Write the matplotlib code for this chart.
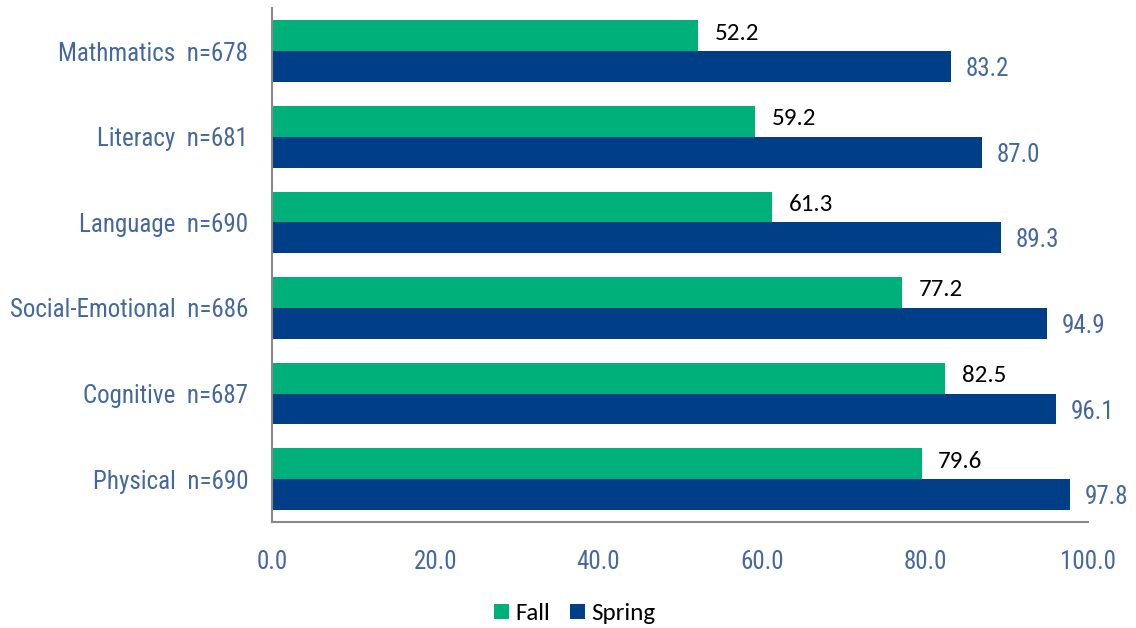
import matplotlib
matplotlib.use("Agg")
import matplotlib.pyplot as plt
import numpy as np
from matplotlib import font_manager

categories = ["Mathmatics  n=678", "Literacy  n=681", "Language  n=690",
              "Social-Emotional  n=686", "Cognitive  n=687", "Physical  n=690"]
fall = [52.2, 59.2, 61.3, 77.2, 82.5, 79.6]
spring = [83.2, 87.0, 89.3, 94.9, 96.1, 97.8]
xticks = [0, 20, 40, 60, 80, 100]

names = {f.name for f in font_manager.fontManager.ttflist}
def pick(cands):
    for c in cands:
        if c in names:
            return c
    return "DejaVu Sans"
narrow = pick(["Liberation Sans Narrow", "Arial Narrow", "Roboto Condensed", "PT Sans Narrow",
               "Archivo Narrow", "Open Sans Condensed", "Roboto"])
body = pick(["Carlito", "Calibri", "Open Sans"])
nw = "normal"

green = "#00B07A"
navy = "#003F87"
axcol = "#44689E"

fig = plt.figure(figsize=(11.36, 6.28), dpi=100)
ax = fig.add_axes([0.2394, 0.1688, 0.7186, 0.818])

n = len(categories)
y = np.arange(n)
h = 0.36
ax.barh(y - h / 2, fall, height=h, color=green, label="Fall")
ax.barh(y + h / 2, spring, height=h, color=navy, label="Spring")

for yi, v in zip(y, fall):
    ax.text(v + 2.0, yi - h / 2 - 0.03, f"{v:.1f}", va="center", ha="left",
            fontsize=18, color="black", family=body)
for yi, v in zip(y, spring):
    ax.text(v + 1.8, yi + h / 2 + 0.03, f"{v:.1f}", va="center", ha="left",
            fontsize=18, color=axcol, family=narrow, fontweight=nw)

ax.set_ylim(n - 0.5, -0.5)
ax.set_xlim(0, 100)
ax.set_yticks(y)
ax.set_yticklabels(categories, fontsize=18, color=axcol, family=narrow, fontweight=nw)
ax.set_xticks(xticks)
ax.set_xticklabels([f"{t:.1f}" for t in xticks], fontsize=18, color=axcol, family=narrow,
                   fontweight=nw)
ax.tick_params(axis="both", length=0)
ax.tick_params(axis="y", pad=17)
ax.tick_params(axis="x", pad=20)

for s in ["top", "right"]:
    ax.spines[s].set_visible(False)
for s in ["left", "bottom"]:
    ax.spines[s].set_color("#888888")
    ax.spines[s].set_linewidth(1.5)

leg = fig.legend(loc="lower center", bbox_to_anchor=(0.5057, -0.03), ncol=2, frameon=False,
                 prop={"family": body, "size": 18}, handlelength=0.6, handleheight=0.6,
                 handletextpad=0.25, columnspacing=0.8)

fig.savefig("out.png", dpi=100)
